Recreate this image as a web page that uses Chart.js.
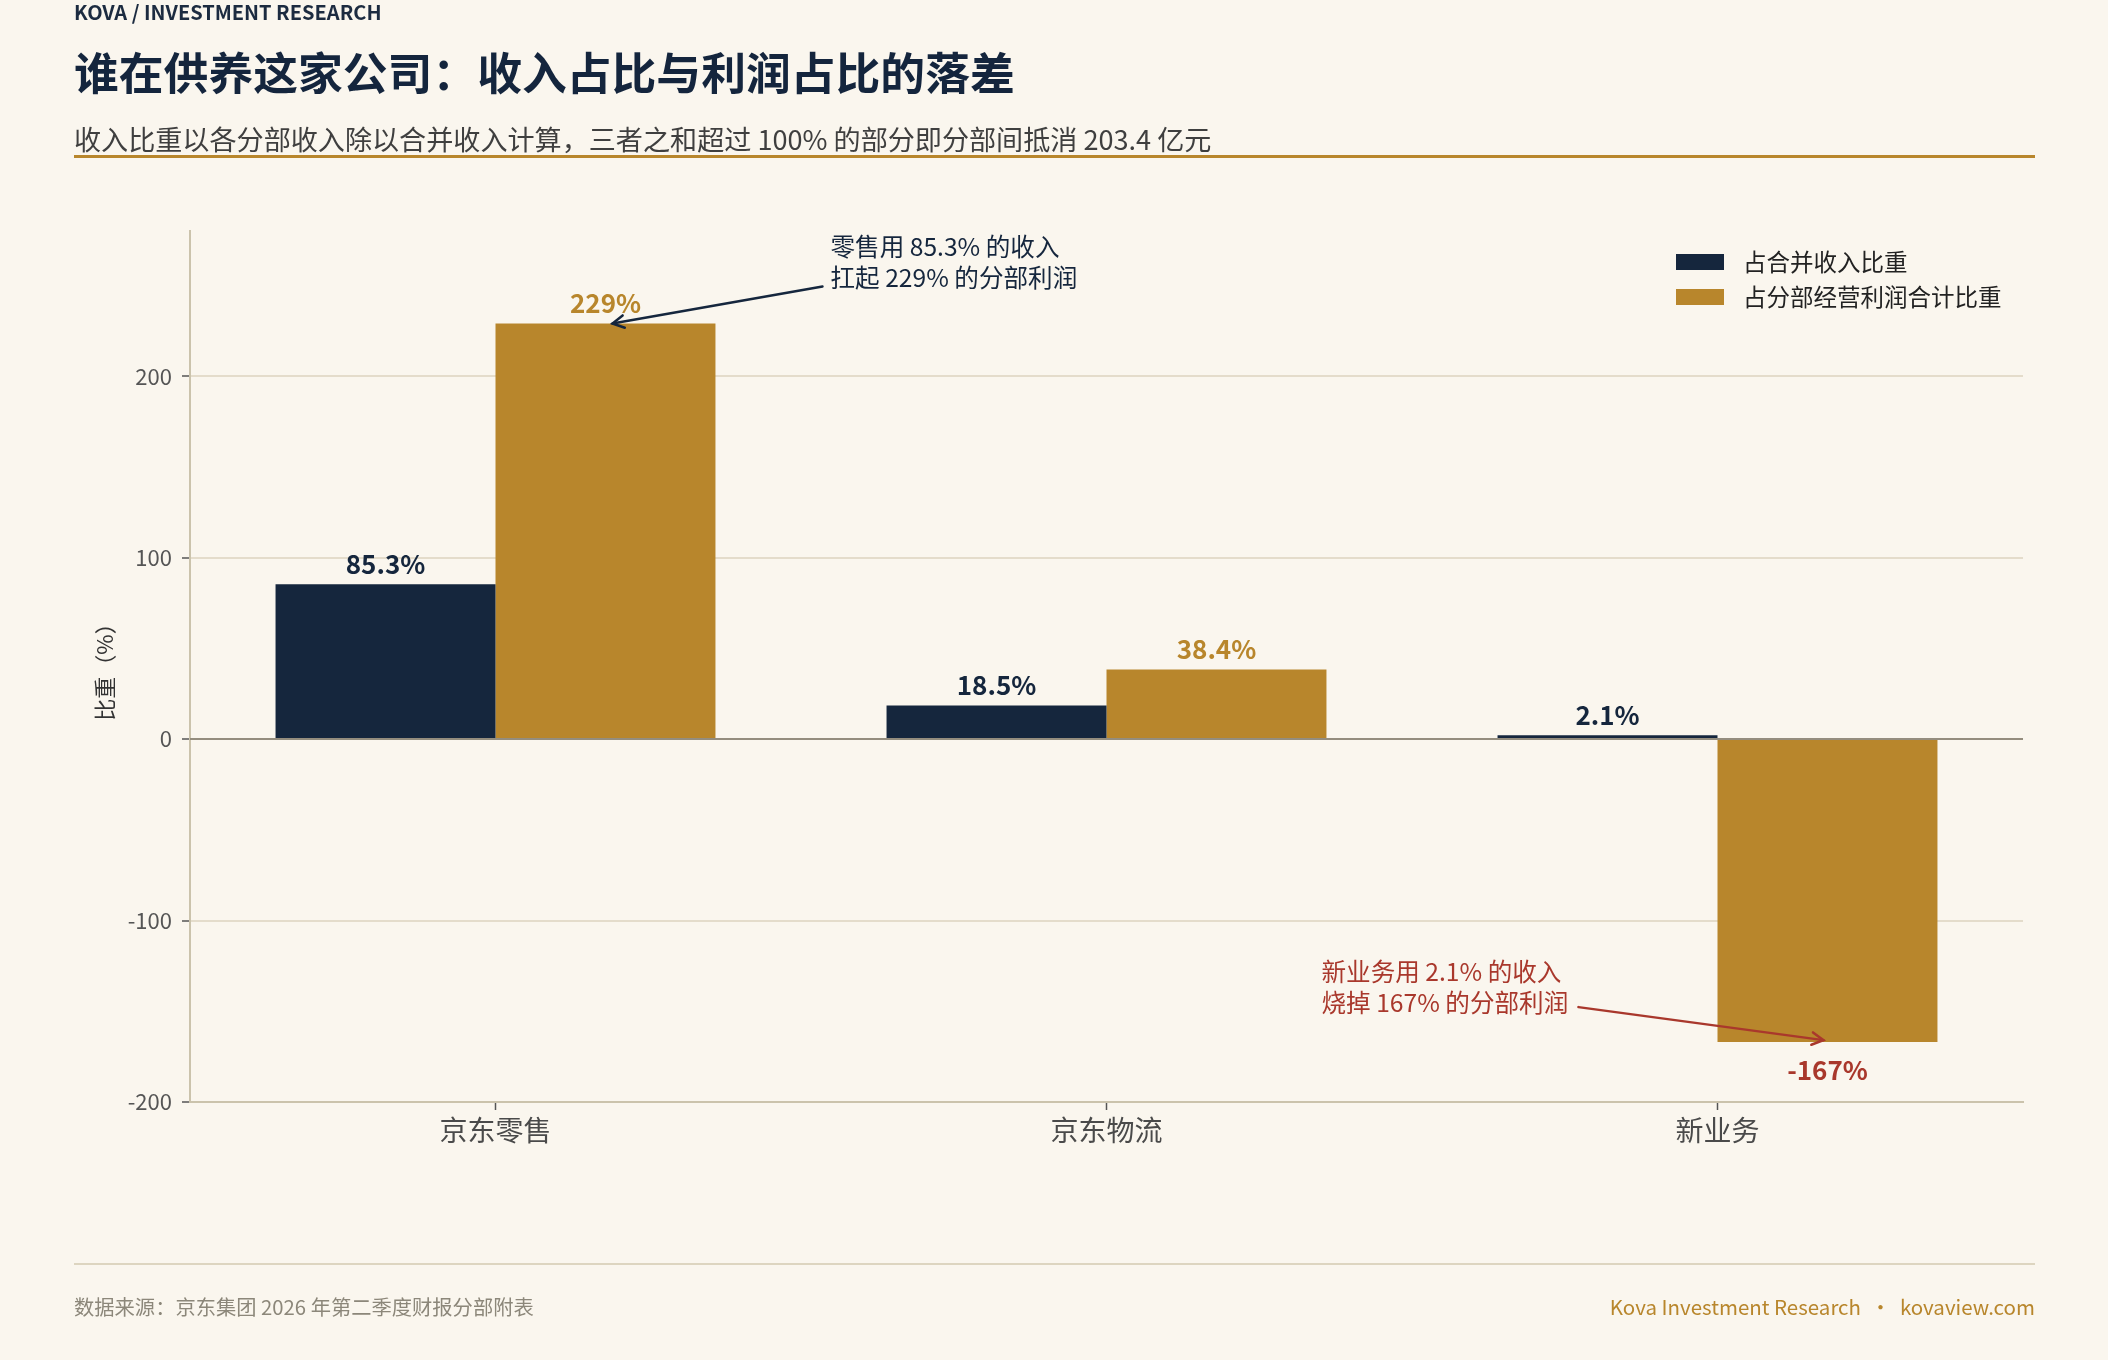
<!DOCTYPE html>
<html><head><meta charset="utf-8">
<script src="https://cdn.jsdelivr.net/npm/chart.js@4.4.1/dist/chart.umd.min.js"></script>
<style>
html,body{margin:0;padding:0;background:#faf6ee;}
body{width:2108px;height:1360px;position:relative;overflow:hidden;font-family:"Noto Sans CJK SC","Noto Sans",sans-serif;}
.t{position:absolute;white-space:nowrap;line-height:1;}
#brand{left:74px;top:2px;font-size:20px;font-weight:700;color:#1c2b40;}
#title{left:74px;top:49px;font-size:44.8px;font-weight:700;color:#14253d;}
#sub{left:74px;top:125px;font-size:27.1px;color:#3f3f3f;}
#rule{position:absolute;left:74px;top:155px;width:1961px;height:3px;background:#b8862c;}
#frule{position:absolute;left:74px;top:1263px;width:1961px;height:2px;background:#ddd5c0;}
#src{left:74px;top:1296px;font-size:20.3px;color:#8c877a;}
#brand2{right:73px;top:1296px;font-size:20.5px;color:#b8862c;}
#wrap{position:absolute;left:0;top:0;width:2108px;height:1360px;}
</style>
</head>
<body>
<div id="wrap"><canvas id="c" width="2108" height="1360"></canvas></div>
<div class="t" id="brand">KOVA / INVESTMENT RESEARCH</div>
<div class="t" id="title">谁在供养这家公司：收入占比与利润占比的落差</div>
<div class="t" id="sub">收入比重以各分部收入除以合并收入计算，三者之和超过 100% 的部分即分部间抵消 203.4 亿元</div>
<div id="rule"></div>
<div id="frule"></div>
<div class="t" id="src">数据来源：京东集团 2026 年第二季度财报分部附表</div>
<div class="t" id="brand2">Kova Investment Research &nbsp;·&nbsp; kovaview.com</div>
<script>
const categories = ['京东零售', '京东物流', '新业务'];
const revenueShare = [85.3, 18.5, 2.1];
const profitShare = [229, 38.4, -167];
const seriesNames = ['占合并收入比重', '占分部经营利润合计比重'];
const yMin = -200, yMax = 280, yStep = 100;
const note1 = ['零售用 85.3% 的收入', '扛起 229% 的分部利润'];
const note2 = ['新业务用 2.1% 的收入', '烧掉 167% 的分部利润'];

const NAVY = '#15263d', GOLD = '#b8862c', RED = '#a9382c';
const FONT = '"Noto Sans CJK SC", "Noto Sans", sans-serif';
Chart.defaults.font.family = FONT;

function arrow(ctx, x1, y1, x2, y2, color) {
  ctx.save();
  ctx.strokeStyle = color; ctx.lineWidth = 2.5; ctx.lineCap = 'round';
  ctx.beginPath(); ctx.moveTo(x1, y1); ctx.lineTo(x2, y2); ctx.stroke();
  const a = Math.atan2(y2 - y1, x2 - x1), L = 13, w = 0.5;
  ctx.beginPath();
  ctx.moveTo(x2 - L * Math.cos(a - w), y2 - L * Math.sin(a - w));
  ctx.lineTo(x2, y2);
  ctx.lineTo(x2 - L * Math.cos(a + w), y2 - L * Math.sin(a + w));
  ctx.stroke();
  ctx.restore();
}

const overlay = {
  id: 'overlay',
  afterDatasetsDraw(chart) {
    const ctx = chart.ctx, ca = chart.chartArea, ys = chart.scales.y;
    const y0 = ys.getPixelForValue(0);
    ctx.save();
    ctx.strokeStyle = '#948d7e'; ctx.lineWidth = 2;
    ctx.beginPath(); ctx.moveTo(ca.left, y0); ctx.lineTo(ca.right, y0); ctx.stroke();
    ctx.font = '700 26px ' + FONT;
    ctx.textAlign = 'center'; ctx.textBaseline = 'middle';
    chart.data.datasets.forEach((ds, di) => {
      chart.getDatasetMeta(di).data.forEach((bar, i) => {
        const v = ds.data[i];
        ctx.fillStyle = v < 0 ? RED : (di === 0 ? NAVY : GOLD);
        ctx.fillText(v + '%', bar.x, v >= 0 ? bar.y - 20 : bar.y + 28);
      });
    });
    ctx.textAlign = 'left';
    ctx.font = '23.5px ' + FONT;
    chart.data.datasets.forEach((ds, di) => {
      const bx = ca.right - 347, cy = ca.top + 31 + di * 35;
      ctx.fillStyle = ds.backgroundColor;
      ctx.fillRect(bx, cy - 8, 48, 16);
      ctx.fillStyle = '#222';
      ctx.fillText(ds.label, bx + 67, cy);
    });
    const g = chart.getDatasetMeta(1).data;
    const a = g[0], b = g[2];
    ctx.font = '24.6px ' + FONT;
    ctx.fillStyle = NAVY;
    note1.forEach((s, k) => ctx.fillText(s, a.x + 225, a.y - 77 + k * 31));
    arrow(ctx, a.x + 217, a.y - 37, a.x + 7, a.y, NAVY);
    ctx.fillStyle = RED;
    note2.forEach((s, k) => ctx.fillText(s, b.x - 506, b.y - 70 + k * 31));
    arrow(ctx, b.x - 249, b.y - 35, b.x - 4, b.y - 2, RED);
    ctx.restore();
  }
};

new Chart(document.getElementById('c'), {
  type: 'bar',
  data: {
    labels: categories,
    datasets: [
      { label: seriesNames[0], data: revenueShare, backgroundColor: NAVY, categoryPercentage: 0.72, barPercentage: 1 },
      { label: seriesNames[1], data: profitShare, backgroundColor: GOLD, categoryPercentage: 0.72, barPercentage: 1 }
    ]
  },
  options: {
    responsive: false, animation: false, devicePixelRatio: 1,
    layout: { padding: { left: 0, right: 85, top: 231, bottom: 198 } },
    plugins: { legend: { display: false }, tooltip: { enabled: false } },
    scales: {
      x: {
        grid: { offset: false, drawOnChartArea: false, drawTicks: true, tickLength: 8, tickColor: '#555', tickWidth: 1.5 },
        border: { color: '#cbc3ac', width: 2 },
        ticks: { font: { size: 28 }, color: '#4a4a4a', padding: 4 },
        afterFit(s) { s.height = 60; }
      },
      y: {
        min: yMin, max: yMax,
        ticks: { stepSize: yStep, includeBounds: false, font: { size: 22 }, color: '#555', padding: 10 },
        grid: { color: '#e4dccb', lineWidth: 2, tickColor: '#555', tickLength: 8, tickWidth: 1.5 },
        border: { color: '#cbc3ac', width: 2 },
        title: { display: true, text: '比重（%）', font: { size: 22 }, color: '#333', padding: { top: 91, bottom: 0 } },
        afterFit(s) { s.width = 190; }
      }
    }
  },
  plugins: [overlay]
});
</script>
</body></html>
